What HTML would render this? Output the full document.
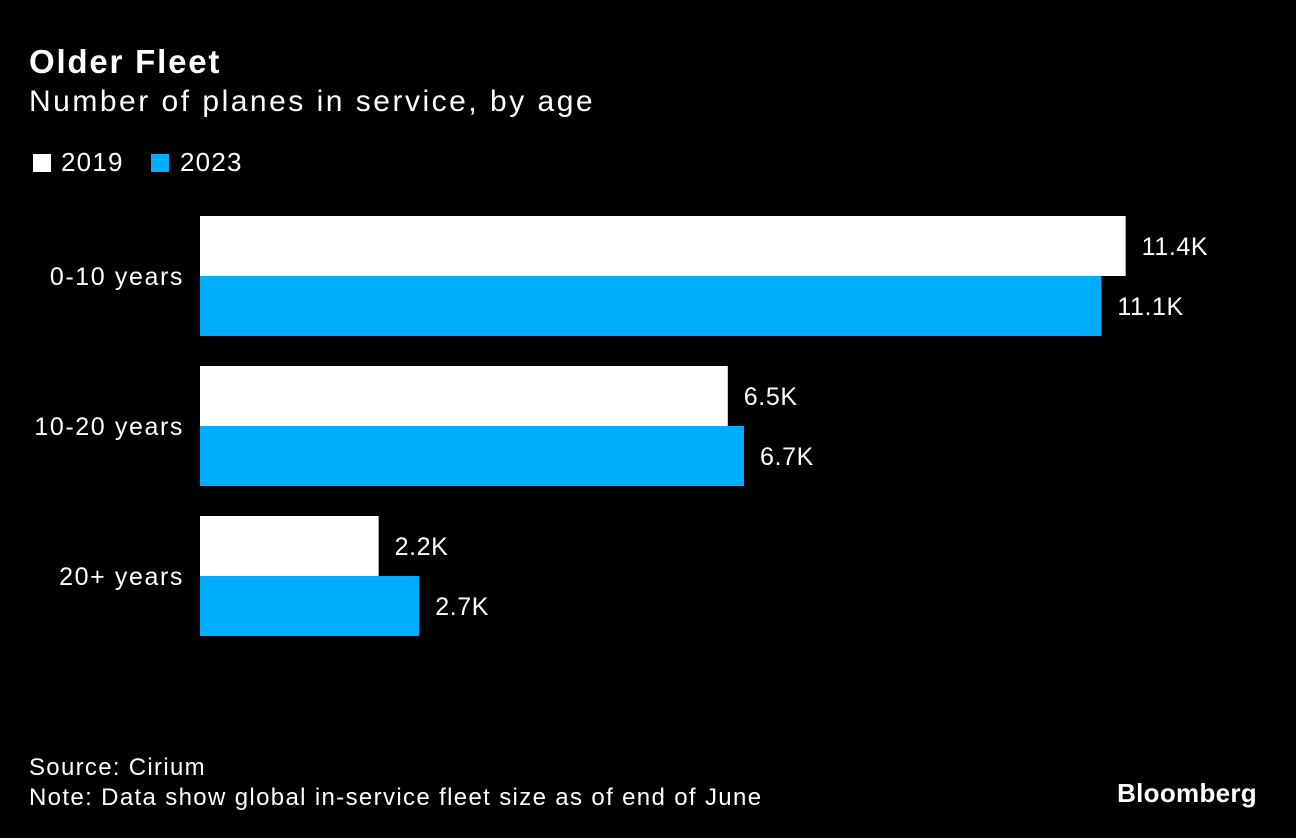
<!DOCTYPE html>
<html><head><meta charset="utf-8"><style>
body{margin:0;background:#000;width:1296px;height:838px;overflow:hidden;font-family:"Liberation Sans",sans-serif;color:#fff}
.t{position:absolute;white-space:nowrap}
</style></head><body>
<div class="t" style="left:29px;top:43px;font-size:33px;font-weight:bold;letter-spacing:1.8px">Older Fleet</div>
<div class="t" style="left:29px;top:85px;font-size:30px;letter-spacing:2.5px">Number of planes in service, by age</div>
<div>
<div class="t" style="left:33px;top:154px;width:18px;height:18px;background:#fff"></div>
<div class="t" style="left:61px;top:147px;font-size:26px;letter-spacing:1.2px">2019</div>
<div class="t" style="left:151px;top:154px;width:18px;height:18px;background:#00aeff"></div>
<div class="t" style="left:180px;top:147px;font-size:26px;letter-spacing:1.2px">2023</div>
</div>
<svg id="chart" width="1296" height="700" style="position:absolute;left:0;top:0"></svg>
<div class="t" style="left:29px;top:754px;font-size:24px;letter-spacing:1.3px">Source: Cirium</div>
<div class="t" style="left:29px;top:784px;font-size:24px;letter-spacing:1.35px">Note: Data show global in-service fleet size as of end of June</div>
<div class="t" style="right:39px;top:778px;font-size:26px;font-weight:bold;letter-spacing:0.3px">Bloomberg</div>
<script>
const categories=["0-10 years","10-20 years","20+ years"];
const values2019=[11.4,6.5,2.2];
const values2023=[11.1,6.7,2.7];
const labels2019=["11.4K","6.5K","2.2K"];
const labels2023=["11.1K","6.7K","2.7K"];
const svg=document.getElementById('chart');
const NS="http://www.w3.org/2000/svg";
const x0=200,pxPerK=81.2,top0=216,pitch=150,bh=60;
const xs=v=>x0+v*pxPerK;
function mk(tag,attrs,txt){const e=document.createElementNS(NS,tag);for(const k in attrs)e.setAttribute(k,attrs[k]);if(txt!==undefined)e.textContent=txt;svg.appendChild(e);return e;}
categories.forEach((c,i)=>{
  const y=top0+i*pitch;
  const cl=mk('text',{x:184,y:y+bh+9,'text-anchor':'end','font-size':25,'letter-spacing':'1.6px',fill:'#fff','font-family':'Liberation Sans'},c);
  
  
  [[values2019,labels2019,'#fff',0],[values2023,labels2023,'#00aeff',bh]].forEach(([vals,labs,col,off])=>{
    const r=mk('rect',{x:x0,y:y+off,width:xs(vals[i])-x0,height:bh,fill:col});
    
    
    const t=mk('text',{x:xs(vals[i])+16,y:y+off+bh/2+9,'font-size':25,'letter-spacing':'0.6px',fill:'#fff','font-family':'Liberation Sans'},labs[i]);
    
    
  });
});
</script>
</body></html>
